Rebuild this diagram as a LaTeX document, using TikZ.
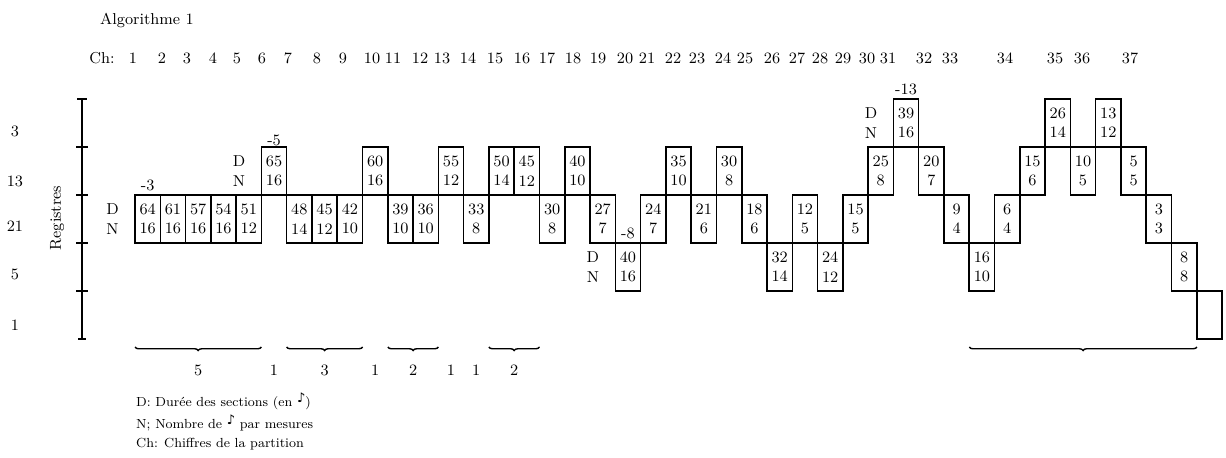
\documentclass[tikz,border=0pt]{standalone}
\usepackage{fontspec}
\newfontfamily\notefont{DejaVu Sans}
\usetikzlibrary{positioning,decorations.pathreplacing}

\begin{document}
\begin{tikzpicture}[
  cell/.style={draw, line width=0.9pt, outer sep=0pt, inner sep=0pt, minimum width=0.5056cm, minimum height=0.96cm, align=center, font=\small},
  dn/.style={left=0.2cm, align=center, font=\small},
  offs/.style={above, inner sep=2pt, font=\small},
  grp/.style={decorate, thick, decoration={brace, mirror, amplitude=2pt}},
]
\useasboundingbox (0,0) rectangle (24.52,-9.16);
\node[font=\small] (title) at (2.94,-0.40) {Algorithme 1};
% chapter numbers
\node[font=\small] (ch) at (2.04,-1.16) {Ch:};
\node[font=\small] (c1) at (2.66,-1.16) {1};
\node[font=\small] (c2) at (3.24,-1.16) {2};
\node[font=\small] (c3) at (3.74,-1.16) {3};
\node[font=\small] (c4) at (4.26,-1.16) {4};
\node[font=\small] (c5) at (4.74,-1.16) {5};
\node[font=\small] (c6) at (5.24,-1.16) {6};
\node[font=\small] (c7) at (5.76,-1.16) {7};
\node[font=\small] (c8) at (6.34,-1.16) {8};
\node[font=\small] (c9) at (6.86,-1.16) {9};
\node[font=\small] (c10) at (7.44,-1.16) {10};
\node[font=\small] (c11) at (7.86,-1.16) {11};
\node[font=\small] (c12) at (8.40,-1.16) {12};
\node[font=\small] (c13) at (8.84,-1.16) {13};
\node[font=\small] (c14) at (9.36,-1.16) {14};
\node[font=\small] (c15) at (9.90,-1.16) {15};
\node[font=\small] (c16) at (10.44,-1.16) {16};
\node[font=\small] (c17) at (10.94,-1.16) {17};
\node[font=\small] (c18) at (11.46,-1.16) {18};
\node[font=\small] (c19) at (11.96,-1.16) {19};
\node[font=\small] (c20) at (12.50,-1.16) {20};
\node[font=\small] (c21) at (12.94,-1.16) {21};
\node[font=\small] (c22) at (13.46,-1.16) {22};
\node[font=\small] (c23) at (13.94,-1.16) {23};
\node[font=\small] (c24) at (14.46,-1.16) {24};
\node[font=\small] (c25) at (14.90,-1.16) {25};
\node[font=\small] (c26) at (15.44,-1.16) {26};
\node[font=\small] (c27) at (15.94,-1.16) {27};
\node[font=\small] (c28) at (16.40,-1.16) {28};
\node[font=\small] (c29) at (16.86,-1.16) {29};
\node[font=\small] (c30) at (17.34,-1.16) {30};
\node[font=\small] (c31) at (17.76,-1.16) {31};
\node[font=\small] (c32) at (18.48,-1.16) {32};
\node[font=\small] (c33) at (19.00,-1.16) {33};
\node[font=\small] (c34) at (20.10,-1.16) {34};
\node[font=\small] (c35) at (21.10,-1.16) {35};
\node[font=\small] (c36) at (21.64,-1.16) {36};
\node[font=\small] (c37) at (22.60,-1.16) {37};
% register axis
\draw[thick] (1.64,-1.98) -- (1.64,-6.78);
\draw[thick] (1.54,-1.98) -- (1.74,-1.98);
\draw[thick] (1.56,-6.78) -- (1.72,-6.78);
\draw[thick] (1.52,-2.94) -- (1.76,-2.94);
\draw[thick] (1.52,-3.90) -- (1.76,-3.90);
\draw[thick] (1.52,-4.86) -- (1.76,-4.86);
\draw[thick] (1.52,-5.82) -- (1.76,-5.82);
\node[rotate=90, font=\small] (reg) at (1.14,-4.36) {Registres};
\node[font=\small] (r3) at (0.30,-2.62) {3};
\node[font=\small] (r13) at (0.30,-3.62) {13};
\node[font=\small] (r21) at (0.30,-4.52) {21};
\node[font=\small] (r5) at (0.30,-5.48) {5};
\node[font=\small] (r1) at (0.30,-6.50) {1};
% sections
\node[cell] (b1) at (2.953,-4.38) {64\\16};
\node[cell, right=0pt of b1] (b2) {61\\16};
\node[cell, right=0pt of b2] (b3) {57\\16};
\node[cell, right=0pt of b3] (b4) {54\\16};
\node[cell, right=0pt of b4] (b5) {51\\12};
\node[cell, above right=0pt of b5] (b6) {65\\16};
\node[cell, below right=0pt of b6] (b7) {48\\14};
\node[cell, right=0pt of b7] (b8) {45\\12};
\node[cell, right=0pt of b8] (b9) {42\\10};
\node[cell, above right=0pt of b9] (b10) {60\\16};
\node[cell, below right=0pt of b10] (b11) {39\\10};
\node[cell, right=0pt of b11] (b12) {36\\10};
\node[cell, above right=0pt of b12] (b13) {55\\12};
\node[cell, below right=0pt of b13] (b14) {33\\8};
\node[cell, above right=0pt of b14] (b15) {50\\14};
\node[cell, right=0pt of b15] (b16) {45\\12};
\node[cell, below right=0pt of b16] (b17) {30\\8};
\node[cell, above right=0pt of b17] (b18) {40\\10};
\node[cell, below right=0pt of b18] (b19) {27\\7};
\node[cell, below right=0pt of b19] (b20) {40\\16};
\node[cell, above right=0pt of b20] (b21) {24\\7};
\node[cell, above right=0pt of b21] (b22) {35\\10};
\node[cell, below right=0pt of b22] (b23) {21\\6};
\node[cell, above right=0pt of b23] (b24) {30\\8};
\node[cell, below right=0pt of b24] (b25) {18\\6};
\node[cell, below right=0pt of b25] (b26) {32\\14};
\node[cell, above right=0pt of b26] (b27) {12\\5};
\node[cell, below right=0pt of b27] (b28) {24\\12};
\node[cell, above right=0pt of b28] (b29) {15\\5};
\node[cell, above right=0pt of b29] (b30) {25\\8};
\node[cell, above right=0pt of b30] (b31) {39\\16};
\node[cell, below right=0pt of b31] (b32) {20\\7};
\node[cell, below right=0pt of b32] (b33) {9\\4};
\node[cell, below right=0pt of b33] (b34) {16\\10};
\node[cell, above right=0pt of b34] (b35) {6\\4};
\node[cell, above right=0pt of b35] (b36) {15\\6};
\node[cell, above right=0pt of b36] (b37) {26\\14};
\node[cell, below right=0pt of b37] (b38) {10\\5};
\node[cell, above right=0pt of b38] (b39) {13\\12};
\node[cell, below right=0pt of b39] (b40) {5\\5};
\node[cell, below right=0pt of b40] (b41) {3\\3};
\node[cell, below right=0pt of b41] (b42) {8\\8};
\node[cell, below right=0pt of b42] (b43) {};
% shifts and D/N marks
\node[offs] (o1) at (b1.north) {-3};
\node[offs, inner sep=0.5pt] (o6) at (b6.north) {-5};
\node[offs] (o20) at (b20.north) {-8};
\node[offs] (o31) at (b31.north) {-13};
\node[dn] (d1) at (b1.west) {D\\N};
\node[dn] (d6) at (b6.west) {D\\N};
\node[dn] (d20) at (b20.west) {D\\N};
\node[dn] (d31) at (b31.west) {D\\N};
% groups
\coordinate (gb) at (0,-6.94);
\coordinate (gl) at (0,-7.40);
\draw[grp] (b1.west |- gb) -- node[below=0.22cm, font=\small] (g1) {5} (b5.east |- gb);
\node[font=\small] (s6) at (b6 |- gl) {1};
\draw[grp] (b7.west |- gb) -- node[below=0.22cm, font=\small] (g7) {3} (b9.east |- gb);
\node[font=\small] (s10) at (b10 |- gl) {1};
\draw[grp] (b11.west |- gb) -- node[below=0.22cm, font=\small] (g11) {2} (b12.east |- gb);
\node[font=\small] (s13) at (b13 |- gl) {1};
\node[font=\small] (s14) at (b14 |- gl) {1};
\draw[grp] (b15.west |- gb) -- node[below=0.22cm, font=\small] (g15) {2} (b16.east |- gb);
\draw[grp] (b34.west |- gb) -- (b42.east |- gb);
% legend
\node[anchor=north west, align=left, font=\fontsize{7.5}{9}\selectfont] (leg) at (2.60,-7.74) {D: Durée des sections (en \raisebox{2pt}{\notefont ♪})\\[2pt]N; Nombre de \raisebox{2pt}{\notefont ♪} par mesures\\[2pt]Ch: Chiffres de la partition};
\end{tikzpicture}
\end{document}
